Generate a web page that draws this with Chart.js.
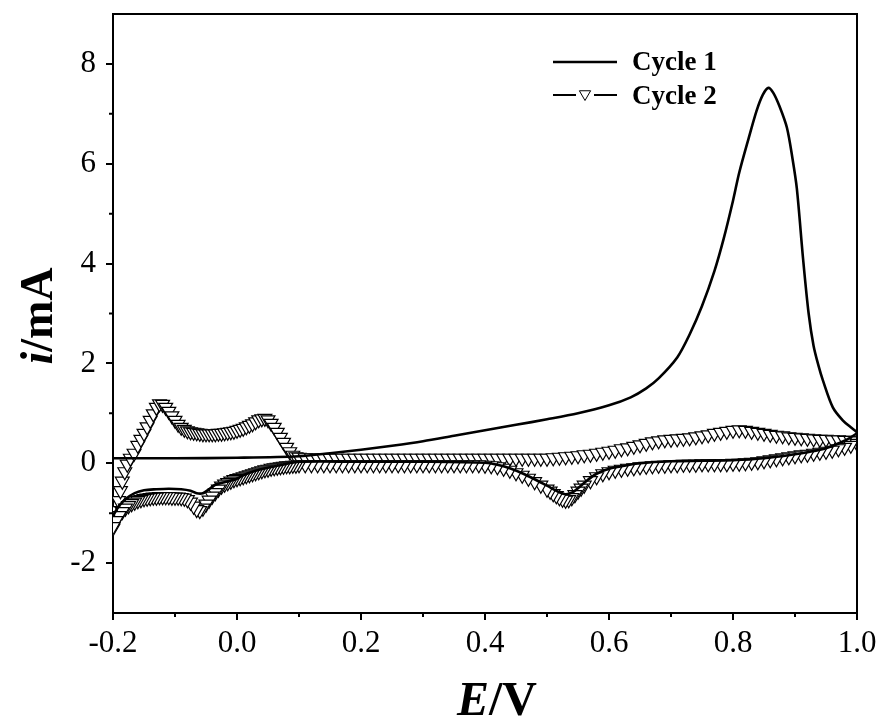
<!DOCTYPE html>
<html>
<head>
<meta charset="utf-8">
<script src="https://cdn.jsdelivr.net/npm/chart.js@4.4.1/dist/chart.umd.min.js"></script>
<style>
  html, body { margin: 0; padding: 0; background: #fff; }
</style>
</head>
<body>
<canvas id="cv" width="881" height="723"></canvas>
<script>
// [E (V), i (mA)] pairs
const cycle1Forward = [
  [-0.2, 0.10], [-0.1, 0.10], [0.0, 0.11], [0.1, 0.14], [0.15, 0.20], [0.2, 0.27],
  [0.25, 0.35], [0.3, 0.44], [0.35, 0.55], [0.4, 0.66], [0.45, 0.77], [0.5, 0.88],
  [0.55, 1.00], [0.6, 1.16], [0.635, 1.32], [0.66, 1.50], [0.68, 1.70], [0.71, 2.12],
  [0.73, 2.58], [0.75, 3.15], [0.77, 3.85], [0.785, 4.50], [0.8, 5.26], [0.81, 5.82],
  [0.825, 6.50], [0.838, 7.06], [0.848, 7.38], [0.857, 7.52], [0.865, 7.42], [0.875, 7.15],
  [0.887, 6.72], [0.896, 6.10], [0.903, 5.50], [0.913, 4.10], [0.922, 3.00], [0.93, 2.35],
  [0.938, 1.95], [0.945, 1.66], [0.961, 1.12], [0.977, 0.86], [0.99, 0.72], [1.0, 0.62]
];
const cycle1Reverse = [
  [1.0, 0.60], [0.98, 0.45], [0.95, 0.30], [0.92, 0.22], [0.9, 0.18], [0.85, 0.10],
  [0.8, 0.06], [0.75, 0.05], [0.7, 0.04], [0.65, 0.0], [0.62, -0.06], [0.6, -0.11],
  [0.58, -0.21], [0.565, -0.34], [0.55, -0.50], [0.54, -0.59], [0.53, -0.62], [0.52, -0.58],
  [0.5, -0.45], [0.48, -0.32], [0.46, -0.20], [0.44, -0.10], [0.42, -0.03], [0.4, 0.01],
  [0.3, 0.03], [0.2, 0.03], [0.1, 0.03], [0.07, -0.04], [0.05, -0.09], [0.03, -0.15],
  [0.01, -0.24], [0.0, -0.31], [-0.02, -0.38], [-0.035, -0.43], [-0.045, -0.52], [-0.055, -0.60],
  [-0.065, -0.60], [-0.075, -0.55], [-0.09, -0.52], [-0.11, -0.51], [-0.13, -0.52], [-0.15, -0.54],
  [-0.165, -0.60], [-0.18, -0.72], [-0.19, -0.85], [-0.2, -1.05]
];
const cycle2Forward = [
  [-0.2, -1.30], [-0.197, -1.15], [-0.194, -0.95], [-0.191, -0.75], [-0.188, -0.55], [-0.185, -0.36],
  [-0.181, -0.17], [-0.177, -0.02], [-0.172, 0.10], [-0.166, 0.20], [-0.16, 0.36], [-0.155, 0.48],
  [-0.15, 0.60], [-0.145, 0.73], [-0.14, 0.86], [-0.135, 0.99], [-0.13, 1.12], [-0.125, 1.19],
  [-0.12, 1.18], [-0.115, 1.12], [-0.11, 1.04], [-0.105, 0.95], [-0.1, 0.86], [-0.095, 0.78],
  [-0.09, 0.72], [-0.085, 0.68], [-0.08, 0.65], [-0.075, 0.63], [-0.07, 0.62], [-0.065, 0.61],
  [-0.06, 0.60], [-0.055, 0.59], [-0.05, 0.59], [-0.045, 0.59], [-0.04, 0.59], [-0.035, 0.59],
  [-0.03, 0.60], [-0.025, 0.60], [-0.02, 0.61], [-0.015, 0.62], [-0.01, 0.63], [-0.005, 0.64],
  [0.0, 0.66], [0.005, 0.68], [0.01, 0.70], [0.015, 0.73], [0.02, 0.76], [0.025, 0.79],
  [0.03, 0.83], [0.035, 0.87], [0.04, 0.89], [0.045, 0.90], [0.05, 0.87], [0.055, 0.80],
  [0.06, 0.72], [0.065, 0.62], [0.07, 0.52], [0.075, 0.42], [0.08, 0.32], [0.085, 0.23],
  [0.09, 0.16], [0.095, 0.13], [0.1, 0.12], [0.11, 0.11], [0.12, 0.11], [0.13, 0.10],
  [0.14, 0.10], [0.15, 0.10], [0.16, 0.10], [0.17, 0.10], [0.18, 0.10], [0.19, 0.10],
  [0.2, 0.10], [0.21, 0.10], [0.22, 0.10], [0.23, 0.10], [0.24, 0.10], [0.25, 0.10],
  [0.26, 0.10], [0.27, 0.10], [0.28, 0.10], [0.29, 0.10], [0.3, 0.10], [0.31, 0.10],
  [0.32, 0.10], [0.33, 0.10], [0.34, 0.10], [0.35, 0.10], [0.36, 0.10], [0.37, 0.10],
  [0.38, 0.10], [0.39, 0.10], [0.4, 0.10], [0.41, 0.10], [0.42, 0.10], [0.43, 0.10],
  [0.44, 0.10], [0.45, 0.10], [0.46, 0.10], [0.47, 0.10], [0.48, 0.10], [0.49, 0.10],
  [0.5, 0.10], [0.51, 0.11], [0.52, 0.12], [0.53, 0.13], [0.54, 0.14], [0.55, 0.15],
  [0.56, 0.17], [0.57, 0.18], [0.58, 0.20], [0.59, 0.22], [0.6, 0.24], [0.61, 0.26],
  [0.62, 0.29], [0.63, 0.31], [0.64, 0.34], [0.65, 0.37], [0.66, 0.40], [0.67, 0.43],
  [0.68, 0.45], [0.69, 0.47], [0.7, 0.48], [0.71, 0.49], [0.72, 0.50], [0.73, 0.51],
  [0.74, 0.53], [0.75, 0.55], [0.76, 0.57], [0.77, 0.60], [0.78, 0.62], [0.79, 0.64],
  [0.8, 0.66], [0.81, 0.67], [0.82, 0.66], [0.83, 0.64], [0.84, 0.62], [0.85, 0.60],
  [0.86, 0.58], [0.87, 0.56], [0.88, 0.55], [0.89, 0.53], [0.9, 0.52], [0.91, 0.51],
  [0.92, 0.50], [0.93, 0.49], [0.94, 0.48], [0.95, 0.48], [0.96, 0.47], [0.97, 0.47],
  [0.98, 0.46], [0.99, 0.46], [1.0, 0.45]
];
const cycle2Reverse = [
  [1.0, 0.40], [0.99, 0.36], [0.98, 0.32], [0.97, 0.29], [0.96, 0.26], [0.95, 0.24],
  [0.94, 0.22], [0.93, 0.20], [0.92, 0.18], [0.91, 0.17], [0.9, 0.15], [0.89, 0.13],
  [0.88, 0.11], [0.87, 0.09], [0.86, 0.07], [0.85, 0.05], [0.84, 0.03], [0.83, 0.02],
  [0.82, 0.01], [0.81, 0.0], [0.8, 0.0], [0.79, -0.01], [0.78, -0.01], [0.77, -0.01],
  [0.76, -0.01], [0.75, -0.01], [0.74, -0.02], [0.73, -0.02], [0.72, -0.02], [0.71, -0.03],
  [0.7, -0.03], [0.69, -0.04], [0.68, -0.04], [0.67, -0.05], [0.66, -0.06], [0.65, -0.07],
  [0.64, -0.09], [0.63, -0.10], [0.62, -0.12], [0.61, -0.14], [0.6, -0.17], [0.59, -0.21],
  [0.58, -0.27], [0.57, -0.35], [0.56, -0.44], [0.555, -0.50], [0.55, -0.56], [0.545, -0.63],
  [0.54, -0.69], [0.535, -0.73], [0.53, -0.74], [0.525, -0.72], [0.52, -0.69], [0.515, -0.65],
  [0.51, -0.61], [0.505, -0.56], [0.5, -0.52], [0.49, -0.44], [0.48, -0.37], [0.47, -0.30],
  [0.46, -0.24], [0.45, -0.19], [0.44, -0.14], [0.43, -0.10], [0.42, -0.07], [0.41, -0.05],
  [0.4, -0.04], [0.39, -0.03], [0.38, -0.03], [0.37, -0.03], [0.36, -0.03], [0.35, -0.03],
  [0.34, -0.03], [0.33, -0.03], [0.32, -0.03], [0.31, -0.03], [0.3, -0.03], [0.29, -0.03],
  [0.28, -0.03], [0.27, -0.03], [0.26, -0.03], [0.25, -0.03], [0.24, -0.03], [0.23, -0.03],
  [0.22, -0.03], [0.21, -0.03], [0.2, -0.03], [0.19, -0.03], [0.18, -0.03], [0.17, -0.03],
  [0.16, -0.03], [0.15, -0.03], [0.14, -0.03], [0.13, -0.03], [0.12, -0.03], [0.11, -0.03],
  [0.1, -0.03], [0.095, -0.04], [0.09, -0.04], [0.085, -0.05], [0.08, -0.05], [0.075, -0.06],
  [0.07, -0.07], [0.065, -0.08], [0.06, -0.09], [0.055, -0.10], [0.05, -0.12], [0.045, -0.13],
  [0.04, -0.15], [0.035, -0.17], [0.03, -0.19], [0.025, -0.21], [0.02, -0.23], [0.015, -0.25],
  [0.01, -0.27], [0.005, -0.29], [0.0, -0.31], [-0.005, -0.33], [-0.01, -0.36], [-0.015, -0.39],
  [-0.02, -0.42], [-0.025, -0.46], [-0.03, -0.52], [-0.035, -0.59], [-0.04, -0.66], [-0.045, -0.74],
  [-0.05, -0.82], [-0.055, -0.90], [-0.06, -0.95], [-0.065, -0.93], [-0.07, -0.86], [-0.075, -0.78],
  [-0.08, -0.73], [-0.085, -0.70], [-0.09, -0.69], [-0.095, -0.68], [-0.1, -0.68], [-0.105, -0.68],
  [-0.11, -0.67], [-0.115, -0.67], [-0.12, -0.67], [-0.125, -0.67], [-0.13, -0.68], [-0.135, -0.68],
  [-0.14, -0.69], [-0.145, -0.70], [-0.15, -0.71], [-0.155, -0.73], [-0.16, -0.75], [-0.165, -0.78],
  [-0.17, -0.81], [-0.175, -0.85], [-0.18, -0.90], [-0.185, -0.97], [-0.19, -1.05], [-0.195, -1.15],
  [-0.2, -1.27]
];

const xTicks = [-0.2, 0.0, 0.2, 0.4, 0.6, 0.8, 1.0];
const xMinor = [-0.1, 0.1, 0.3, 0.5, 0.7, 0.9];
const yTicks = [-2, 0, 2, 4, 6, 8];
const yMinor = [-1, 1, 3, 5, 7];
const legendLabels = ['Cycle 1', 'Cycle 2'];

const serif = '"Liberation Serif", "Times New Roman", serif';
const toPoints = (arr) => arr.map(([x, y]) => ({ x, y }));

// draws text made of several runs with different fonts, centred on cx
function drawRuns(ctx, runs, cx, baseline) {
  let w = 0;
  runs.forEach((r) => { ctx.font = r.font; w += ctx.measureText(r.text).width; });
  let x = cx - w / 2;
  runs.forEach((r) => {
    ctx.font = r.font;
    ctx.fillText(r.text, x, baseline);
    x += ctx.measureText(r.text).width;
  });
}

function downTriangle(ctx, x, y, r) {
  const h = r * Math.sqrt(3) / 2;
  ctx.beginPath();
  ctx.moveTo(x, y + r);
  ctx.lineTo(x - h, y - r / 2);
  ctx.lineTo(x + h, y - r / 2);
  ctx.closePath();
  ctx.fillStyle = '#fff';
  ctx.fill();
  ctx.stroke();
}

const extras = {
  id: 'extras',
  afterDraw(chart) {
    const { ctx, chartArea: a } = chart;
    const xs = chart.scales.x, ys = chart.scales.y;
    ctx.save();
    ctx.strokeStyle = '#000';
    ctx.fillStyle = '#000';

    // top and right sides of the frame
    ctx.lineWidth = 2;
    ctx.beginPath();
    ctx.moveTo(a.left, a.top);
    ctx.lineTo(a.right, a.top);
    ctx.lineTo(a.right, a.bottom);
    ctx.stroke();

    // minor ticks
    ctx.beginPath();
    xMinor.forEach((v) => {
      const px = xs.getPixelForValue(v);
      ctx.moveTo(px, a.bottom);
      ctx.lineTo(px, a.bottom + 4);
    });
    yMinor.forEach((v) => {
      const py = ys.getPixelForValue(v);
      ctx.moveTo(a.left, py);
      ctx.lineTo(a.left - 4, py);
    });
    ctx.stroke();

    // legend
    ctx.lineWidth = 2.6;
    ctx.beginPath();
    ctx.moveTo(553, 62); ctx.lineTo(617, 62);
    ctx.stroke();
    ctx.lineWidth = 2;
    ctx.beginPath();
    ctx.moveTo(553, 95); ctx.lineTo(576, 95);
    ctx.moveTo(594, 95); ctx.lineTo(617, 95);
    ctx.stroke();
    ctx.lineWidth = 1;
    downTriangle(ctx, 585, 94, 6.5);
    ctx.fillStyle = '#000';
    ctx.textAlign = 'left';
    ctx.textBaseline = 'alphabetic';
    ctx.font = 'bold 27px ' + serif;
    ctx.fillText(legendLabels[0], 632, 70);
    ctx.fillText(legendLabels[1], 632, 104);

    // axis titles
    drawRuns(ctx, [
      { text: 'E', font: 'italic bold 48px ' + serif },
      { text: '/V', font: 'bold 48px ' + serif }
    ], 497, 715);
    ctx.translate(52, 316);
    ctx.rotate(-Math.PI / 2);
    drawRuns(ctx, [
      { text: 'i', font: 'italic bold 46px ' + serif },
      { text: '/mA', font: 'bold 46px ' + serif }
    ], 0, 0);
    ctx.restore();
  }
};

const axisGrid = { drawOnChartArea: false, color: '#000', lineWidth: 2, tickLength: 7 };
const axisBorder = { color: '#000', width: 2 };

new Chart(document.getElementById('cv'), {
  type: 'line',
  data: {
    datasets: [
      {
        label: legendLabels[0],
        data: toPoints(cycle1Forward.concat(cycle1Reverse)),
        borderColor: '#000',
        borderWidth: 2.6,
        pointRadius: 0,
        tension: 0.3
      },
      {
        label: legendLabels[1],
        data: toPoints(cycle2Forward.concat(cycle2Reverse)),
        borderColor: '#000',
        borderWidth: 1.5,
        tension: 0,
        pointStyle: 'triangle',
        rotation: 180,
        pointRadius: 8,
        pointBackgroundColor: '#fff',
        pointBorderColor: '#000',
        pointBorderWidth: 1.2
      }
    ]
  },
  options: {
    responsive: false,
    animation: false,
    devicePixelRatio: 1,
    layout: { padding: { left: 0, top: 14, right: 24, bottom: 0 } },
    plugins: { legend: { display: false }, tooltip: { enabled: false } },
    scales: {
      x: {
        type: 'linear',
        min: -0.2,
        max: 1.0,
        afterFit: (s) => { s.height = 110; s.paddingLeft = 0; s.paddingRight = 0; },
        afterBuildTicks: (s) => { s.ticks = xTicks.map((v) => ({ value: v })); },
        ticks: {
          color: '#000',
          font: { family: serif, size: 31 },
          padding: 5,
          autoSkip: false,
          maxRotation: 0,
          callback: (v) => Number(v).toFixed(1)
        },
        grid: axisGrid,
        border: axisBorder
      },
      y: {
        min: -3,
        max: 9,
        afterFit: (s) => { s.width = 113; s.paddingTop = 0; s.paddingBottom = 0; },
        afterBuildTicks: (s) => { s.ticks = yTicks.map((v) => ({ value: v })); },
        ticks: {
          color: '#000',
          font: { family: serif, size: 31 },
          padding: 10,
          autoSkip: false,
          callback: (v) => String(v)
        },
        grid: axisGrid,
        border: axisBorder
      }
    }
  },
  plugins: [extras]
});
</script>
</body>
</html>
